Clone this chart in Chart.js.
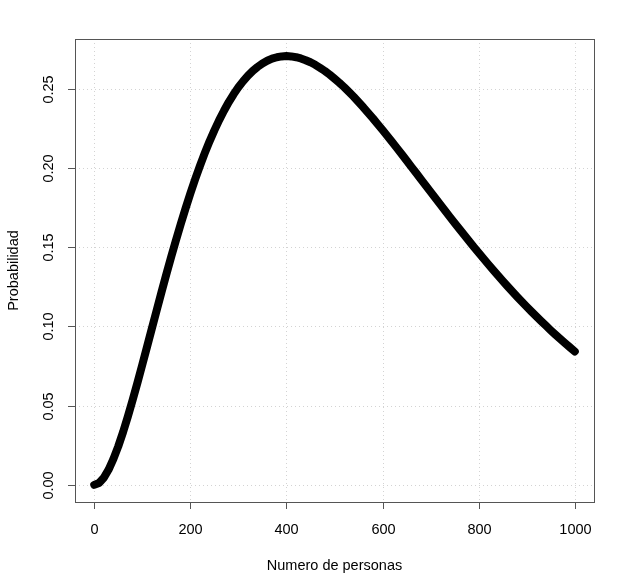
<!DOCTYPE html>
<html>
<head>
<meta charset="utf-8">
<script src="https://cdn.jsdelivr.net/npm/chart.js@4.4.0/dist/chart.umd.min.js"></script>
<style>
  html, body { margin: 0; padding: 0; background: #fff; }
  #wrap { width: 622px; height: 588px; }
</style>
</head>
<body>
<div id="wrap"><canvas id="probChart"></canvas></div>
<script>
// Numero de personas (step 10)
const personas = [
  0, 10, 20, 30, 40, 50, 60, 70, 80, 90,
  100, 110, 120, 130, 140, 150, 160, 170, 180, 190,
  200, 210, 220, 230, 240, 250, 260, 270, 280, 290,
  300, 310, 320, 330, 340, 350, 360, 370, 380, 390,
  400, 410, 420, 430, 440, 450, 460, 470, 480, 490,
  500, 510, 520, 530, 540, 550, 560, 570, 580, 590,
  600, 610, 620, 630, 640, 650, 660, 670, 680, 690,
  700, 710, 720, 730, 740, 750, 760, 770, 780, 790,
  800, 810, 820, 830, 840, 850, 860, 870, 880, 890,
  900, 910, 920, 930, 940, 950, 960, 970, 980, 990,
  1000
];

// Probabilidad
const probabilidad = [
  0.0000, 0.0012, 0.0045, 0.0097, 0.0164, 0.0243, 0.0333, 0.0432, 0.0536, 0.0646,
  0.0758, 0.0873, 0.0988, 0.1103, 0.1217, 0.1329, 0.1438, 0.1544, 0.1647, 0.1745,
  0.1839, 0.1929, 0.2014, 0.2094, 0.2169, 0.2238, 0.2303, 0.2362, 0.2417, 0.2466,
  0.2510, 0.2549, 0.2584, 0.2614, 0.2639, 0.2661, 0.2678, 0.2691, 0.2700, 0.2705,
  0.2707, 0.2705, 0.2700, 0.2692, 0.2681, 0.2668, 0.2652, 0.2633, 0.2613, 0.2590,
  0.2565, 0.2539, 0.2511, 0.2481, 0.2450, 0.2417, 0.2384, 0.2349, 0.2314, 0.2277,
  0.2240, 0.2203, 0.2165, 0.2126, 0.2087, 0.2048, 0.2008, 0.1969, 0.1929, 0.1889,
  0.1850, 0.1810, 0.1771, 0.1731, 0.1692, 0.1654, 0.1615, 0.1577, 0.1539, 0.1502,
  0.1465, 0.1429, 0.1393, 0.1358, 0.1323, 0.1288, 0.1254, 0.1221, 0.1188, 0.1156,
  0.1125, 0.1094, 0.1064, 0.1034, 0.1005, 0.0976, 0.0948, 0.0921, 0.0894, 0.0868,
  0.0842
];

// tick labels
const xTicks = [0, 200, 400, 600, 800, 1000];
const yTicks = [0, 0.05, 0.10, 0.15, 0.20, 0.25];

const points = personas.map((p, i) => ({ x: p, y: probabilidad[i] }));

const FONT = '14.5px "Liberation Sans", Arial, sans-serif';

// R-like frame, dotted grid, ticks and labels
const rAxes = {
  id: 'rAxes',
  beforeDatasetsDraw(chart) {
    const { ctx, chartArea: a, scales: { x, y } } = chart;
    ctx.save();
    ctx.strokeStyle = '#d3d3d3';
    ctx.lineWidth = 1;
    ctx.setLineDash([1, 3]);
    xTicks.forEach(t => {
      const px = Math.round(x.getPixelForValue(t)) + 0.5;
      ctx.beginPath(); ctx.moveTo(px, a.top); ctx.lineTo(px, a.bottom); ctx.stroke();
    });
    yTicks.forEach(t => {
      const py = Math.round(y.getPixelForValue(t)) + 0.5;
      ctx.beginPath(); ctx.moveTo(a.left, py); ctx.lineTo(a.right, py); ctx.stroke();
    });
    ctx.restore();
  },
  afterDatasetsDraw(chart) {
    const { ctx, chartArea: a, scales: { x, y } } = chart;
    ctx.save();
    ctx.strokeStyle = '#555';
    ctx.lineWidth = 1;
    ctx.strokeRect(Math.round(a.left) + 0.5, Math.round(a.top) + 0.5,
                   Math.round(a.right - a.left), Math.round(a.bottom - a.top));

    ctx.fillStyle = '#000';
    ctx.font = FONT;
    ctx.textAlign = 'center';
    ctx.textBaseline = 'middle';
    xTicks.forEach(t => {
      const px = Math.round(x.getPixelForValue(t)) + 0.5;
      ctx.beginPath(); ctx.moveTo(px, a.bottom); ctx.lineTo(px, a.bottom + 7); ctx.stroke();
      ctx.fillText(String(t), px, a.bottom + 28);
    });
    yTicks.forEach(t => {
      const py = Math.round(y.getPixelForValue(t)) + 0.5;
      ctx.beginPath(); ctx.moveTo(a.left, py); ctx.lineTo(a.left - 7, py); ctx.stroke();
      ctx.save();
      ctx.translate(a.left - 26, py);
      ctx.rotate(-Math.PI / 2);
      ctx.fillText(t.toFixed(2), 0, 0);
      ctx.restore();
    });

    ctx.fillText('Numero de personas', (a.left + a.right) / 2, 566);
    ctx.save();
    ctx.translate(14, (a.top + a.bottom) / 2);
    ctx.rotate(-Math.PI / 2);
    ctx.fillText('Probabilidad', 0, 0);
    ctx.restore();
    ctx.restore();
  }
};

new Chart(document.getElementById('probChart'), {
  type: 'scatter',
  data: {
    datasets: [{
      data: points,
      showLine: true,
      borderColor: '#000',
      borderWidth: 8,
      borderCapStyle: 'round',
      borderJoinStyle: 'round',
      pointRadius: 0,
      pointHoverRadius: 0
    }]
  },
  options: {
    responsive: true,
    maintainAspectRatio: false,
    animation: false,
    layout: { padding: { left: 75, right: 28, top: 39, bottom: 86 } },
    scales: {
      x: { type: 'linear', min: -40, max: 1040, display: false },
      y: { type: 'linear', min: -0.0108, max: 0.2815, display: false }
    },
    plugins: {
      legend: { display: false },
      tooltip: { enabled: false }
    }
  },
  plugins: [rAxes]
});
</script>
</body>
</html>
